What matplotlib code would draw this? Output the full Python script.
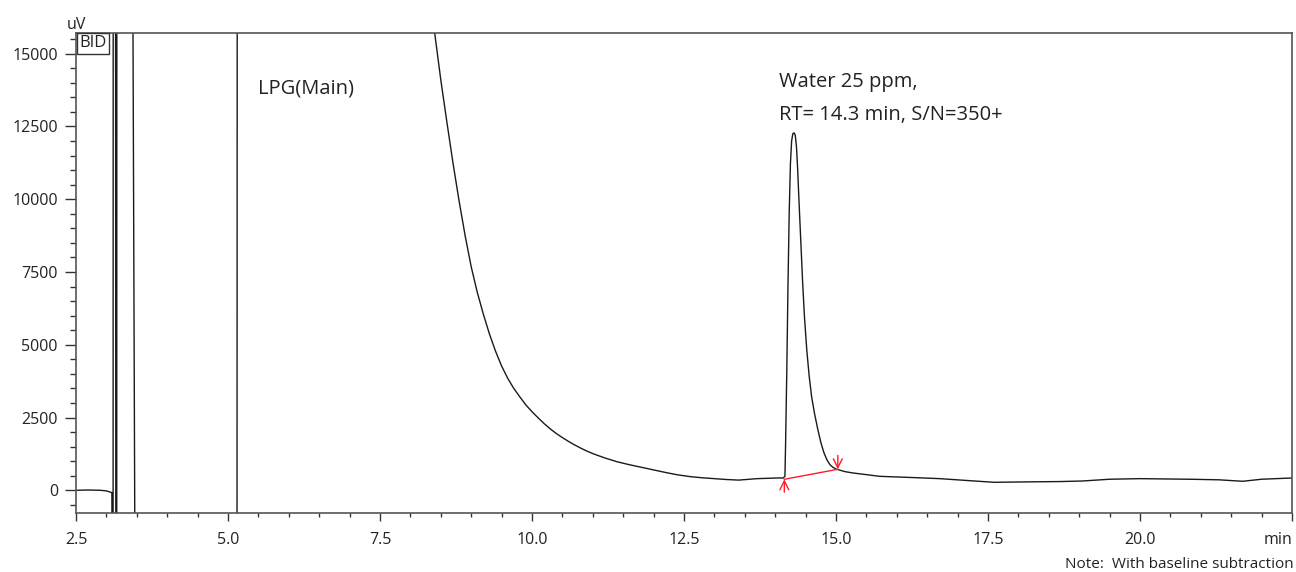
import matplotlib
matplotlib.use("Agg")
import matplotlib.pyplot as plt
from matplotlib.ticker import MultipleLocator, FixedLocator, FixedFormatter

plt.rcParams['font.family'] = ['Open Sans', 'DejaVu Sans']

# chromatogram trace (retention time in min, signal in uV)
time_min = [2.50, 2.70, 2.90, 3.00, 3.06, 3.09, 3.095, 3.11, 3.112, 3.15, 3.155, 3.17, 3.172,
            3.43, 3.47, 5.148, 5.152, 8.35,
            8.40, 8.50, 8.60, 8.70, 8.80, 8.90, 9.00, 9.10, 9.20, 9.30, 9.40, 9.50, 9.60,
            9.70, 9.80, 9.90, 10.00, 10.10, 10.20, 10.30, 10.40, 10.50, 10.60, 10.70, 10.80,
            10.90, 11.00, 11.20, 11.40, 11.60, 11.80, 12.00, 12.20, 12.40, 12.60, 12.80,
            13.00, 13.20, 13.40, 13.70, 14.08,
            14.13, 14.16, 14.17, 14.19, 14.21, 14.23, 14.25, 14.27, 14.29, 14.31, 14.33,
            14.35, 14.37, 14.39, 14.42, 14.45, 14.48, 14.52, 14.56, 14.60, 14.65, 14.70,
            14.75, 14.80, 14.85, 14.90, 14.95, 15.00, 15.05, 15.15, 15.28, 15.72, 16.27,
            16.71, 17.20, 17.60, 18.20, 18.68, 19.06, 19.50, 20.00, 20.40, 20.87, 21.30,
            21.69, 22.00, 22.50]
signal_uv = [0, 10, 0, -20, -60, -80, -3000, -3000, 20000, 20000, -3000, -3000, 20000,
             20000, -3000, -3000, 20000, 20000,
             15700, 14100, 12650, 11250, 9950, 8750, 7680, 6800, 6050, 5370, 4780, 4270, 3850,
             3500, 3210, 2930, 2700, 2490, 2290, 2110, 1950, 1810, 1680, 1560, 1450,
             1350, 1260, 1110, 980, 880, 790, 700, 610, 530, 470, 430,
             400, 370, 350, 400, 425,
             420, 480, 1500, 4000, 7000, 9500, 11200, 12000, 12250, 12280, 12200,
             11800, 11000, 10000, 8600, 7200, 6000, 4800, 3900, 3200, 2600, 2100,
             1650, 1300, 1050, 880, 790, 730, 700, 640, 595, 480, 437,
             400, 330, 275, 290, 300, 320, 380, 400, 390, 378, 360,
             310, 380, 423]

# integration baseline (red) for the water peak
base_time = [14.15, 15.03]
base_uv = [378, 722]

x_major = [2.5, 5.0, 7.5, 10.0, 12.5, 15.0, 17.5, 20.0, 22.5]
x_labels = ['2.5', '5.0', '7.5', '10.0', '12.5', '15.0', '17.5', '20.0', 'min']

fig = plt.figure(figsize=(12.96, 5.72), dpi=100)
ax = fig.add_axes([76/1296, 59/572, (1292-76)/1296, (513-33)/572])

ax.plot(time_min, signal_uv, color='#1a1a1a', lw=1.0)
ax.plot(base_time, base_uv, color='#ff1a2e', lw=1.0)
ax.annotate('', xy=(base_time[0], base_uv[0]), xytext=(base_time[0], -60),
            arrowprops=dict(arrowstyle='->', color='#ff1a2e', lw=1.0, mutation_scale=16,
                            shrinkA=0, shrinkB=0))
ax.annotate('', xy=(base_time[1], base_uv[1]), xytext=(base_time[1], 1200),
            arrowprops=dict(arrowstyle='->', color='#ff1a2e', lw=1.0, mutation_scale=16,
                            shrinkA=0, shrinkB=0))

ax.set_xlim(2.5, 22.5)
ax.set_ylim(-780, 15710)

ax.xaxis.set_major_locator(FixedLocator(x_major))
ax.xaxis.set_major_formatter(FixedFormatter(x_labels))
ax.xaxis.set_minor_locator(MultipleLocator(0.5))
ax.yaxis.set_major_locator(MultipleLocator(2500))
ax.yaxis.set_minor_locator(MultipleLocator(500))

ax.tick_params(axis='x', which='major', length=6, width=1.0, pad=8, labelsize=11.5,
               color='#333333', labelcolor='#222222')
ax.tick_params(axis='x', which='minor', length=3, width=1.0, color='#333333')
ax.tick_params(axis='y', which='major', length=8, width=1.0, pad=5, labelsize=11.5,
               color='#333333', labelcolor='#222222')
ax.tick_params(axis='y', which='minor', length=4, width=1.0, color='#333333')

fig.canvas.draw()
last = ax.get_xticklabels()[-1]
last.set_horizontalalignment('right')

for s in ax.spines.values():
    s.set_color('#555555')
    s.set_linewidth(1.2)

ax.text(0.0, 1.0, 'uV', transform=ax.transAxes, ha='center', va='bottom',
        fontsize=11.5, color='#222222')
ax.text(0.003, 0.995, 'BID', transform=ax.transAxes, ha='left', va='top',
        fontsize=12, color='#222222',
        bbox=dict(boxstyle='square,pad=0.15', facecolor='white', edgecolor='#333333', lw=1.0))

ax.text(5.49, 13800, 'LPG(Main)', ha='left', va='center', fontsize=14.5, color='#222222')
ax.text(14.06, 14020, 'Water 25 ppm,', ha='left', va='center', fontsize=14.5, color='#222222')
ax.text(14.06, 12880, 'RT= 14.3 min, S/N=350+', ha='left', va='center', fontsize=14.5,
        color='#222222')

fig.text(1294/1296, 1 - 564/572, 'Note:  With baseline subtraction', ha='right', va='center',
         fontsize=11, color='#222222')

fig.savefig('out.png', dpi=100)
